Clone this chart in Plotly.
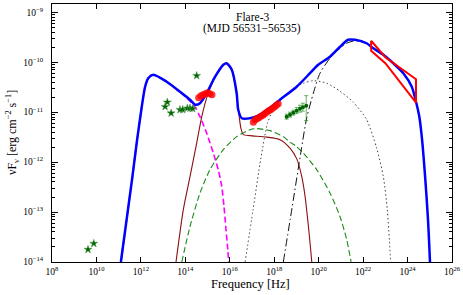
import numpy as np
import plotly.graph_objects as go

# ---------------- data (log10 values) ----------------
blue_lognu = [11.10, 11.61, 11.81, 12.04, 12.19, 12.33, 12.56, 13.16, 13.76, 14.21, 14.44, 14.66,
              14.96, 15.34, 15.71, 15.86, 16.09, 16.31, 16.38, 16.54, 16.91, 17.28, 17.81, 18.26,
              19.01, 19.61, 19.98, 20.51, 20.96, 21.33, 21.64, 22.16, 22.46, 22.91, 23.36, 23.81,
              24.19, 24.38, 24.53, 24.64, 24.79, 24.92, 25.01]
blue_logf = [-14.0, -12.32, -11.62, -10.89, -10.49, -10.32, -10.25, -10.39, -10.59, -10.75, -10.85, -10.82,
             -10.62, -10.29, -10.05, -10.02, -10.15, -10.62, -10.95, -11.12, -11.12, -11.07, -10.91, -10.75,
             -10.49, -10.22, -10.05, -9.89, -9.69, -9.55, -9.55, -9.62, -9.72, -9.85, -10.02, -10.22,
             -10.49, -10.79, -11.09, -11.49, -12.29, -13.15, -14.0]

mag_lognu = [11.10, 11.61, 11.81, 12.04, 12.19, 12.33, 12.56, 13.16, 13.76, 14.21, 14.44, 14.66,
             14.96, 15.26, 15.48, 15.64, 15.74, 15.83, 15.91, 15.95]
mag_logf = [-14.0, -12.32, -11.62, -10.89, -10.49, -10.32, -10.25, -10.39, -10.60, -10.78, -10.90, -11.09,
            -11.42, -11.82, -12.15, -12.49, -12.89, -13.35, -13.75, -14.0]

brown_lognu = [13.58, 13.91, 14.21, 14.51, 14.74, 15.00, 15.34, 15.71, 15.86, 16.09, 16.28, 16.40,
               16.50, 16.61, 16.91, 17.66, 18.26, 18.71, 19.01, 19.24, 19.39, 19.54, 19.64, 19.69]
brown_logf = [-14.0, -12.95, -12.29, -11.62, -11.09, -10.66, -10.30, -10.06, -10.03, -10.16, -10.55, -11.0,
              -11.32, -11.45, -11.47, -11.50, -11.55, -11.72, -11.93, -12.29, -12.69, -13.29, -13.75, -14.0]

gdash_lognu = [13.84, 14.21, 14.66, 15.11, 15.71, 16.31, 16.91, 17.21, 17.81, 18.41, 18.71, 19.01,
               19.31, 19.91, 20.51, 20.96, 21.26, 21.46]
gdash_logf = [-14.0, -13.29, -12.62, -12.15, -11.75, -11.49, -11.35, -11.33, -11.37, -11.49, -11.60, -11.69,
              -11.82, -12.15, -12.62, -13.09, -13.55, -14.0]

dot_lognu = [16.69, 17.05, 17.40, 17.70, 17.95, 18.30, 18.86, 19.31, 19.76, 20.36, 20.96, 21.56,
             22.16, 22.61, 22.91, 23.09, 23.18, 23.24]
dot_logf = [-14.0, -12.95, -11.92, -11.22, -10.95, -10.75, -10.52, -10.42, -10.37, -10.42, -10.58, -10.80,
            -11.15, -11.72, -12.29, -12.95, -13.55, -14.0]

ec_lognu = [18.41, 18.80, 19.20, 19.46, 19.76, 20.06, 20.51, 20.96, 21.26, 21.64, 22.16, 22.46,
            22.91, 23.36, 23.81, 24.19, 24.38, 24.53, 24.64, 24.79, 24.92, 25.01]
ec_logf = [-14.0, -12.92, -11.80, -11.12, -10.62, -10.22, -9.92, -9.72, -9.62, -9.57, -9.63, -9.73,
           -9.86, -10.03, -10.23, -10.50, -10.80, -11.10, -11.50, -12.30, -13.16, -14.0]

# Fermi-LAT butterfly (upper and lower edges)
lat_up_lognu = [22.36, 23.00, 24.38]
lat_up_logf = [-9.57, -9.90, -10.34]
lat_lo_lognu = [22.36, 23.00, 24.38]
lat_lo_logf = [-9.77, -10.02, -10.81]

# optical/UV (red circles)
uv_lognu = [14.60, 14.70, 14.80, 14.90, 15.00, 15.10, 15.20]
uv_logf = [-10.71, -10.67, -10.65, -10.63, -10.61, -10.63, -10.65]

# soft X-ray (red circles)
xrt_lognu = [17.06, 17.14, 17.22, 17.31, 17.40, 17.49, 17.57, 17.66, 17.75, 17.84, 17.93, 18.02, 18.10, 18.18]
xrt_logf = [-11.20, -11.15, -11.13, -11.11, -11.08, -11.06, -11.03, -11.00, -10.97, -10.95, -10.92, -10.89, -10.86, -10.83]

# radio / IR (green stars)
star_lognu = [9.62, 9.88, 13.09, 13.19, 13.36, 13.76, 13.88, 14.09, 14.21, 14.33, 14.51]
star_logf = [-13.75, -13.63, -10.89, -10.80, -11.02, -10.95, -10.95, -10.92, -10.92, -10.93, -10.27]

# hard X-ray (green points with errors)
hx_lognu = [18.56, 18.71, 18.86, 19.01, 19.16, 19.29, 19.44]
hx_logf = [-11.09, -11.05, -11.01, -10.97, -10.93, -10.90, -10.87]
hx_err_up = [0.05, 0.05, 0.05, 0.06, 0.07, 0.08, 0.20]
hx_err_lo = [0.05, 0.05, 0.05, 0.06, 0.07, 0.08, 0.30]
hx_xerr = [0.07, 0.07, 0.07, 0.07, 0.07, 0.07, 0.07]

x_tick_exp = [8, 10, 12, 14, 16, 18, 20, 22, 24, 26]
x_tick_text = ["10<sup>8</sup>", "10<sup>10</sup>", "10<sup>12</sup>", "10<sup>14</sup>", "10<sup>16</sup>",
               "10<sup>18</sup>", "10<sup>20</sup>", "10<sup>22</sup>", "10<sup>24</sup>", "10<sup>26</sup>"]
y_tick_exp = [-14, -13, -12, -11, -10, -9]
y_tick_text = ["10<sup>\u221214</sup>", "10<sup>\u221213</sup>", "10<sup>\u221212</sup>",
               "10<sup>\u221211</sup>", "10<sup>\u221210</sup>", "10<sup>\u22129</sup>"]

title_lines = ["Flare-3", "(MJD 56531\u221256535)"]
x_label = "Frequency [Hz]"
y_label = "\u03bdF<sub>\u03bd</sub> [erg cm<sup>\u22122</sup> s<sup>\u22121</sup>]"

# ---------------------------------------------------------------------------
def p(a):
    return 10 ** np.asarray(a, dtype=float)

FONT = "Liberation Serif"
fig = go.Figure()

def curve(lx, ly, color, width, dash="solid", shape="spline"):
    fig.add_trace(go.Scatter(x=p(lx), y=p(ly), mode="lines",
                             line=dict(color=color, width=width, dash=dash, shape=shape, smoothing=0.7),
                             showlegend=False, hoverinfo="skip"))

curve(mag_lognu, mag_logf, "#FF00FF", 1.6, "6px,3px")
curve(brown_lognu, brown_logf, "#8B1010", 1.1)
curve(gdash_lognu, gdash_logf, "#1a8a1a", 1.1, "6px,3px")
curve(dot_lognu, dot_logf, "#444444", 1.0, "1.5px,2.5px")
curve(ec_lognu, ec_logf, "#111111", 1.0, "8px,3px,1.5px,3px")
curve(blue_lognu, blue_logf, "#0000FF", 2.5)

# butterfly
bx = list(lat_up_lognu) + list(lat_lo_lognu[::-1]) + [lat_up_lognu[0]]
by = list(lat_up_logf) + list(lat_lo_logf[::-1]) + [lat_up_logf[0]]
fig.add_trace(go.Scatter(x=p(bx), y=p(by), mode="lines", line=dict(color="#FF0000", width=2),
                         showlegend=False, hoverinfo="skip"))

# hard X-ray with errors
hx_y = p(hx_logf)
hx_x = p(hx_lognu)
fig.add_trace(go.Scatter(
    x=hx_x, y=hx_y, mode="markers",
    marker=dict(symbol="circle", size=4, color="#006400"),
    error_y=dict(type="data", array=p(np.add(hx_logf, hx_err_up)) - hx_y,
                 arrayminus=hx_y - p(np.subtract(hx_logf, hx_err_lo)),
                 color="rgba(0,128,0,0.6)", thickness=1, width=2),
    error_x=dict(type="data", array=p(np.add(hx_lognu, hx_xerr)) - hx_x,
                 arrayminus=hx_x - p(np.subtract(hx_lognu, hx_xerr)),
                 color="rgba(0,128,0,0.6)", thickness=1, width=0),
    showlegend=False, hoverinfo="skip"))

# red circles
for lx, ly in ((uv_lognu, uv_logf), (xrt_lognu, xrt_logf)):
    fig.add_trace(go.Scatter(x=p(lx), y=p(ly), mode="markers",
                             marker=dict(symbol="circle", size=7, color="rgba(255,0,0,0.8)", line=dict(width=0)),
                             showlegend=False, hoverinfo="skip"))

# green stars
fig.add_trace(go.Scatter(x=p(star_lognu), y=p(star_logf), mode="markers",
                         marker=dict(symbol="star", size=6, color="#006400",
                                     line=dict(width=0.5, color="#4a9a4a")),
                         showlegend=False, hoverinfo="skip"))

minor_y = [k * 10.0 ** e for e in range(-14, -8) for k in range(2, 10)]

fig.update_layout(
    width=463, height=295,
    margin=dict(l=52, r=11, t=4, b=33),
    paper_bgcolor="white", plot_bgcolor="white",
    font=dict(family=FONT, color="black", size=10),
    xaxis=dict(type="log", range=[8, 26], tickmode="array",
               tickvals=[10.0 ** e for e in x_tick_exp], ticktext=x_tick_text,
               ticks="inside", ticklen=5, tickwidth=1, tickcolor="black",
               showline=True, linecolor="black", linewidth=1, mirror="ticks",
               showgrid=False, zeroline=False, tickfont=dict(size=9.5, family=FONT),
               ticklabelstandoff=1, automargin=False),
    yaxis=dict(type="log", range=[-14, -8.834], tickmode="array",
               tickvals=[10.0 ** e for e in y_tick_exp], ticktext=y_tick_text,
               ticks="inside", ticklen=6, tickwidth=1, tickcolor="black",
               minor=dict(ticks="inside", ticklen=3, tickcolor="black", tickmode="array", tickvals=minor_y),
               showline=True, linecolor="black", linewidth=1, mirror="ticks",
               showgrid=False, zeroline=False, tickfont=dict(size=9.5, family=FONT),
               ticklabelstandoff=6, automargin=False),
)

fig.add_annotation(text=title_lines[0], xref="paper", yref="paper", x=0.5, y=1 - (17 - 4) / 258,
                   showarrow=False, font=dict(size=11.5, family=FONT), xanchor="center", yanchor="middle")
fig.add_annotation(text=title_lines[1], xref="paper", yref="paper", x=0.5, y=1 - (29 - 4) / 258,
                   showarrow=False, font=dict(size=11.5, family=FONT), xanchor="center", yanchor="middle")
fig.add_annotation(text=x_label, xref="paper", yref="paper", x=0.495, y=1 - (284 - 4) / 258,
                   showarrow=False, font=dict(size=12.5, family=FONT), xanchor="center", yanchor="middle")
fig.add_annotation(text=y_label, xref="paper", yref="paper", x=(12 - 52) / 400, y=1 - (133 - 4) / 258,
                   showarrow=False, textangle=-90, font=dict(size=12, family=FONT),
                   xanchor="center", yanchor="middle")

fig.write_html("out.html", config={"displayModeBar": False},
               post_script="document.body.style.margin='0';document.body.style.padding='0';")
